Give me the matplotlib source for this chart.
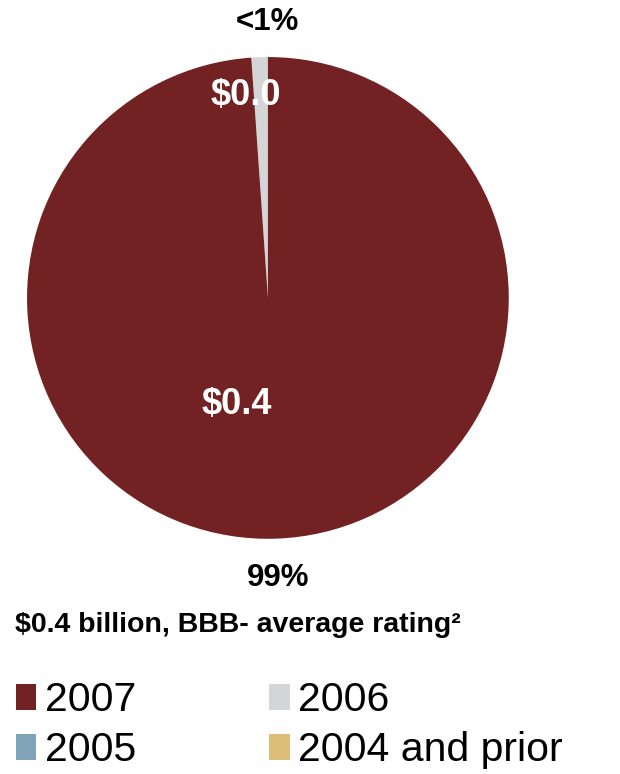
import matplotlib.pyplot as plt
from matplotlib.patches import Patch

plt.rcParams['font.family'] = ['Liberation Sans', 'DejaVu Sans']

# vintage breakdown, $ billions share
vintages = ['2007', '2006', '2005', '2004 and prior']
shares = [98.9, 1.1, 0.0, 0.0]
amounts = ['$0.4', '$0.0', '', '']
pct_labels = ['99%', '<1%', '', '']
colors = ['#722222', '#D4D5D7', '#7FA3B8', '#DCBE78']
subtitle = '$0.4 billion, BBB- average rating\u00b2'

fig = plt.figure(figsize=(6.2, 7.74), dpi=100)
ax = fig.add_axes([0.0436, 0.3036, 0.777, 0.623])

# draw the nonzero slices; 2006 sits just left of 12 o'clock
vals = [shares[1], shares[0]]
cols = [colors[1], colors[0]]
ax.pie(vals, colors=cols, startangle=90, counterclock=True,
       wedgeprops=dict(linewidth=0))
ax.set_xlim(-1, 1)
ax.set_ylim(-1, 1)
ax.set_aspect('equal')
ax.axis('off')

# amount labels inside slices
ax.text(-0.129, -0.444, amounts[0], color='white', fontsize=26,
        fontweight='bold', ha='center', va='center')
ax.text(-0.091, 0.842, amounts[1], color='white', fontsize=26,
        fontweight='bold', ha='center', va='center')
# percentage labels outside
ax.text(0.0, 1.145, pct_labels[1], color='black', fontsize=22.5,
        fontweight='bold', ha='center', va='center', clip_on=False)
ax.text(0.041, -1.162, pct_labels[0], color='black', fontsize=22.5,
        fontweight='bold', ha='center', va='center', clip_on=False)

fig.text(15 / 620, 1 - 625 / 774, subtitle, fontsize=20.5, fontweight='bold',
         ha='left', va='center')

handles = [Patch(facecolor=c, edgecolor='none') for c in colors]
order = [0, 2, 1, 3]
fig.legend([handles[i] for i in order], [vintages[i] for i in order],
           ncol=2, loc='upper left', bbox_to_anchor=(16 / 620, 1 - 681 / 774),
           frameon=False, fontsize=29.5, handlelength=0.5, handleheight=0.6,
           handletextpad=0.2, columnspacing=3.25, labelspacing=0.3,
           borderaxespad=0, borderpad=0)

fig.savefig('out.png', dpi=100, facecolor='white')
